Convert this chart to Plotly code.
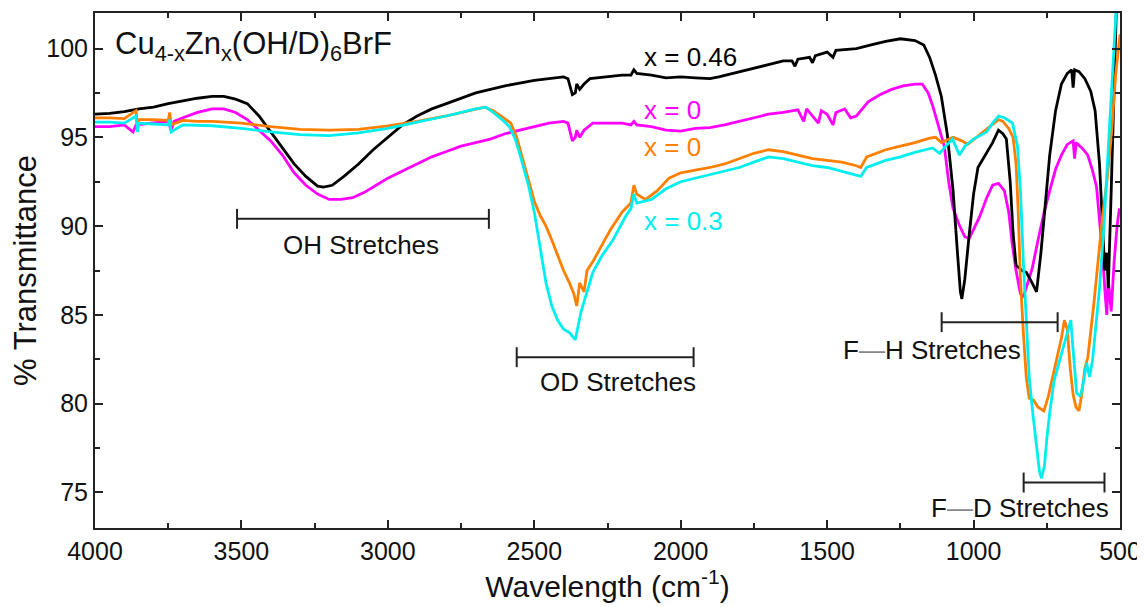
import plotly.graph_objects as go

# ---------------- data ----------------
wn_black = [4000, 3950, 3900, 3850, 3800, 3750, 3700, 3650, 3600, 3560, 3520, 3480, 3440, 3400, 3360, 3320,
            3280, 3240, 3220, 3190, 3150, 3100, 3050, 3000, 2950, 2900, 2850, 2800, 2750, 2700, 2650, 2600,
            2550, 2500, 2450, 2400, 2385, 2370, 2360, 2355, 2345, 2330, 2310, 2250, 2200, 2170, 2160, 2150,
            2100, 2050, 2000, 1950, 1900, 1870, 1800, 1750, 1700, 1650, 1620, 1610, 1600, 1560, 1550, 1540,
            1500, 1480, 1470, 1400, 1350, 1300, 1250, 1200, 1170, 1150, 1130, 1110, 1090, 1070, 1055, 1045,
            1040, 1030, 1015, 1000, 985, 960, 935, 915, 900, 888, 875, 865, 855, 835, 820, 800, 785, 770, 755,
            740, 720, 700, 680, 665, 660, 655, 640, 620, 600, 585, 570, 560, 552, 545, 540, 530, 520, 512]
t_black = [96.3, 96.35, 96.45, 96.6, 96.7, 96.9, 97.05, 97.2, 97.3, 97.3, 97.15, 96.9, 96.2, 95.3, 94.4, 93.5,
           92.8, 92.25, 92.2, 92.3, 92.8, 93.5, 94.3, 95.0, 95.7, 96.2, 96.6, 96.9, 97.2, 97.5, 97.7, 97.9,
           98.05, 98.2, 98.3, 98.4, 98.3, 97.4, 97.5, 98.0, 97.7, 98.0, 98.3, 98.4, 98.5, 98.5, 98.8, 98.6,
           98.5, 98.35, 98.4, 98.35, 98.3, 98.4, 98.7, 98.9, 99.1, 99.3, 99.3, 99.0, 99.4, 99.5, 99.2, 99.6,
           99.8, 99.5, 99.9, 100.0, 100.2, 100.4, 100.55, 100.45, 100.2, 99.5, 98.5, 97.3, 95.2, 92.0, 88.5, 86.3,
           85.9, 87.0, 89.5, 91.8, 93.3, 94.0, 94.7, 95.4, 95.2, 94.9, 92.5, 89.6, 87.8, 87.5, 87.4, 86.8, 86.3, 88.5, 91.5,
           94.0, 96.5, 98.0, 98.6, 98.8, 97.8, 98.8, 98.7, 98.3, 97.6, 96.5, 93.5, 90.0, 87.5, 88.5, 86.5, 92.0, 98.0, 102.5]

wn_magenta = [4000, 3950, 3900, 3870, 3860, 3800, 3750, 3740, 3730, 3700, 3650, 3600, 3560, 3520, 3480, 3440,
              3400, 3360, 3320, 3280, 3240, 3200, 3160, 3120, 3080, 3040, 3000, 2950, 2900, 2850, 2800, 2750,
              2700, 2650, 2600, 2550, 2500, 2450, 2400, 2385, 2370, 2360, 2355, 2345, 2330, 2300, 2250, 2200,
              2170, 2160, 2150, 2100, 2050, 2000, 1950, 1900, 1850, 1800, 1750, 1700, 1650, 1600, 1580, 1570,
              1530, 1520, 1500, 1480, 1470, 1440, 1420, 1400, 1380, 1360, 1320, 1280, 1240, 1200, 1175, 1155,
              1140, 1120, 1100, 1085, 1070, 1050, 1030, 1015, 1000, 980, 955, 935, 915, 895, 880, 868, 855, 840,
              830, 815, 800, 780, 760, 740, 720, 700, 680, 660, 655, 650, 630, 610, 595, 580, 570, 560, 550, 545,
              540, 530, 520, 510, 502]
t_magenta = [95.6, 95.6, 95.7, 95.3, 95.7, 95.8, 95.9, 95.4, 95.9, 96.1, 96.4, 96.6, 96.6, 96.4, 96.0, 95.4,
             94.8, 94.0, 93.0, 92.3, 91.8, 91.5, 91.5, 91.6, 91.9, 92.3, 92.7, 93.1, 93.5, 93.9, 94.2, 94.5,
             94.7, 94.9, 95.2, 95.4, 95.6, 95.8, 95.9, 95.8, 94.8, 95.0, 95.4, 95.0, 95.4, 95.8, 95.8, 95.8,
             95.7, 95.9, 95.7, 95.6, 95.4, 95.35, 95.5, 95.55, 95.7, 95.9, 96.1, 96.3, 96.4, 96.55, 95.9, 96.6,
             95.8, 96.5, 96.3, 95.7, 96.4, 96.6, 96.1, 96.2, 96.6, 97.0, 97.4, 97.7, 97.9, 98.0, 98.0, 97.5,
             96.8, 95.7, 94.5, 92.5, 91.0, 90.1, 89.4, 89.3, 89.8, 90.5, 91.6, 92.3, 92.4, 92.0, 90.8, 89.0, 87.5, 86.2,
             86.0, 86.8, 87.6, 89.2, 90.7, 92.0, 93.2, 94.0, 94.6, 94.8, 93.8, 94.7, 94.4, 94.0, 93.2, 92.2, 90.5, 88.5, 86.0, 85.0,
             87.0, 85.2, 88.0, 90.0, 91.0]

wn_orange = [4000, 3950, 3900, 3860, 3855, 3850, 3800, 3750, 3745, 3740, 3700, 3650, 3600, 3500, 3400, 3300,
             3200, 3100, 3000, 2900, 2800, 2700, 2670, 2640, 2610, 2580, 2560, 2540, 2520, 2500, 2480, 2460,
             2440, 2420, 2400, 2380, 2365, 2355, 2345, 2330, 2320, 2300, 2270, 2240, 2200, 2170, 2160, 2150,
             2120, 2080, 2040, 2000, 1950, 1900, 1850, 1800, 1750, 1700, 1650, 1600, 1550, 1500, 1450, 1400,
             1385, 1365, 1300, 1250, 1200, 1150, 1130, 1110, 1090, 1070, 1040, 1020, 990, 960, 935, 915, 900,
             880, 865, 855, 848, 840, 830, 820, 810, 795, 780, 760, 745, 730, 715, 700, 690, 680, 670, 660, 650,
             640, 630, 620, 610, 600, 590, 575, 560, 545, 530, 515, 505, 500]
t_orange = [96.1, 96.1, 96.05, 96.5, 95.7, 96.0, 96.0, 95.95, 96.4, 95.7, 95.95, 95.9, 95.9, 95.8, 95.6, 95.45,
            95.4, 95.45, 95.65, 95.9, 96.2, 96.6, 96.7, 96.5, 96.15, 95.8, 95.0, 93.8, 92.6, 91.4, 90.6, 90.0,
            89.2, 88.3, 87.5, 86.8, 86.2, 85.5, 86.8, 86.3, 87.5, 88.0, 88.9, 89.8, 90.8, 91.3, 92.3, 91.8,
            91.5, 92.0, 92.7, 93.0, 93.15, 93.3, 93.5, 93.8, 94.1, 94.3, 94.2, 94.0, 93.8, 93.7, 93.6, 93.4,
            93.3, 93.9, 94.3, 94.5, 94.7, 94.95, 95.0, 94.7, 94.85, 95.0, 94.8, 94.6, 95.0, 95.4, 95.7, 96.0, 95.9,
            95.5, 95.0, 93.5, 91.0, 87.0, 84.0, 81.5, 80.3, 80.2, 79.8, 79.6, 80.4, 81.5, 82.5, 83.7, 84.7, 84.2, 82.0, 80.5, 79.8,
            79.6, 80.6, 82.0, 82.6, 84.0, 85.5, 88.0, 90.5, 92.5, 95.0, 98.5, 100.3, 100.8]

wn_cyan = [4000, 3950, 3900, 3860, 3855, 3850, 3800, 3750, 3745, 3740, 3700, 3600, 3500, 3400, 3300, 3200,
           3100, 3000, 2900, 2800, 2700, 2665, 2640, 2610, 2585, 2565, 2545, 2520, 2500, 2480, 2460, 2440,
           2420, 2400, 2380, 2360, 2350, 2340, 2320, 2300, 2270, 2232, 2190, 2170, 2160, 2150, 2100, 2050,
           2000, 1950, 1900, 1850, 1800, 1750, 1700, 1650, 1600, 1550, 1500, 1450, 1400, 1385, 1365, 1300,
           1250, 1200, 1140, 1116, 1095, 1072, 1048, 1030, 1000, 956, 935, 915, 895, 867, 850, 840, 830, 820,
           810, 798, 785, 775, 768, 758, 750, 740, 725, 706, 690, 683, 668, 660, 648, 635, 625, 614, 604, 594,
           580, 570, 555, 540, 530, 518, 512]
t_cyan = [95.85, 95.85, 95.8, 96.2, 95.3, 95.8, 95.75, 95.7, 96.0, 95.3, 95.7, 95.65, 95.5, 95.3, 95.15, 95.1,
          95.25, 95.5, 95.85, 96.2, 96.6, 96.7, 96.4, 96.0, 95.6, 94.9, 93.8, 92.3, 90.8, 88.8, 86.8, 85.5,
          84.7, 84.2, 84.0, 83.6, 84.5, 85.2, 86.3, 87.4, 88.3, 89.2, 90.5, 91.0, 91.8, 91.3, 91.5, 92.1,
          92.5, 92.7, 92.9, 93.1, 93.3, 93.6, 93.9, 93.8, 93.6, 93.4, 93.3, 93.1, 92.9, 92.8, 93.3, 93.7,
          93.9, 94.15, 94.4, 94.1, 94.5, 94.9, 94.0, 94.5, 94.9, 95.3, 95.8, 96.2, 96.1, 95.8, 94.5, 92.0, 88.0, 84.5,
          81.5, 79.5, 77.5, 76.2, 75.8, 76.5, 78.0, 79.5, 81.3, 82.4, 83.4, 83.7, 84.7, 83.0, 80.6, 80.4, 81.2, 82.3, 81.5, 82.4,
          85.0, 86.5, 90.0, 94.5, 97.5, 101.0, 102.5]

series_names = ["x = 0.46", "x = 0 (OH)", "x = 0 (OD)", "x = 0.3"]
series_colors = ["#000000", "#FF00FF", "#FF7F00", "#00EEEE"]

# range bars: (label, start, end, y)
bar_labels = ["OH Stretches", "OD Stretches", "F<span style='color:#888888'>—</span>H Stretches",
              "F<span style='color:#888888'>—</span>D Stretches"]
bar_start = [3515, 2560, 1109, 829]
bar_end = [2655, 1956, 713, 553]
bar_y = [90.41, 82.62, 84.59, 75.56]
bar_label_x = [3092, 2215, 1142, 843]
bar_label_y = [88.95, 81.2, 83.0, 74.15]

series_labels = ["x = 0.46", "x = 0", "x = 0", "x = 0.3"]
series_label_x = [2133, 2133, 2133, 2133]
series_label_y = [99.55, 96.56, 94.45, 90.3]

x_ticks = [4000, 3500, 3000, 2500, 2000, 1500, 1000, 500]
y_ticks = [75, 80, 85, 90, 95, 100]

FONT = "Liberation Sans, Arial, sans-serif"

fig = go.Figure()
order = [1, 0, 2, 3]
all_x = [wn_black, wn_magenta, wn_orange, wn_cyan]
all_y = [t_black, t_magenta, t_orange, t_cyan]
for i in order:
    fig.add_trace(go.Scatter(x=all_x[i], y=all_y[i], mode="lines", name=series_names[i],
                             line=dict(color=series_colors[i], width=2.8), showlegend=False))

cap = 0.56
for lab, xs, xe, yy, lx, ly in zip(bar_labels, bar_start, bar_end, bar_y, bar_label_x, bar_label_y):
    fig.add_shape(type="line", xref="x", yref="y", x0=xs, x1=xe, y0=yy, y1=yy,
                  line=dict(color="#222222", width=2))
    for xx in (xs, xe):
        fig.add_shape(type="line", xref="x", yref="y", x0=xx, x1=xx, y0=yy - cap, y1=yy + cap,
                      line=dict(color="#222222", width=2))
    fig.add_annotation(x=lx, y=ly, xref="x", yref="y", text=lab, showarrow=False,
                       font=dict(family=FONT, size=26, color="#111111"), xanchor="center", yanchor="middle")

for lab, lx, ly, col in zip(series_labels, series_label_x, series_label_y, series_colors):
    fig.add_annotation(x=lx, y=ly, xref="x", yref="y", text=lab, showarrow=False,
                       font=dict(family=FONT, size=26, color=col), xanchor="left", yanchor="middle")

fig.add_annotation(x=3939, y=100.15, xref="x", yref="y",
                   text="Cu<sub>4-x</sub>Zn<sub>x</sub>(OH/D)<sub>6</sub>BrF", showarrow=False,
                   font=dict(family=FONT, size=31, color="#111111"), xanchor="left", yanchor="middle")

fig.update_xaxes(range=[4000, 500], tickvals=x_ticks, ticks="inside", ticklen=8, tickwidth=2,
                 tickcolor="#222222", showline=True, linecolor="#222222", linewidth=2, mirror="ticks",
                 showgrid=False, zeroline=False, automargin=False,
                 minor=dict(ticks="inside", dtick=250, ticklen=5, tickwidth=1.5, tickcolor="#222222", showgrid=False),
                 tickfont=dict(family=FONT, size=25, color="#111111"),
                 title=dict(text="Wavelength (cm<sup>-1</sup>)", font=dict(family=FONT, size=30, color="#111111"),
                            standoff=4))
fig.update_yaxes(range=[73, 102], tickvals=y_ticks, ticks="inside", ticklen=8, tickwidth=2,
                 tickcolor="#222222", showline=True, linecolor="#222222", linewidth=2, mirror="ticks",
                 showgrid=False, zeroline=False, automargin=False,
                 minor=dict(ticks="inside", dtick=2.5, ticklen=5, tickwidth=1.5, tickcolor="#222222", showgrid=False),
                 tickfont=dict(family=FONT, size=25, color="#111111"),
                 title=dict(text="% Transmittance", font=dict(family=FONT, size=31, color="#111111"), standoff=6))

# page body has an 8px margin: size the figure so the plot area lands where the reference has it
fig.update_layout(width=1137, height=599, margin=dict(l=87, r=25, t=5, b=79),
                  plot_bgcolor="white", paper_bgcolor="white")

fig.write_html("out.html")
